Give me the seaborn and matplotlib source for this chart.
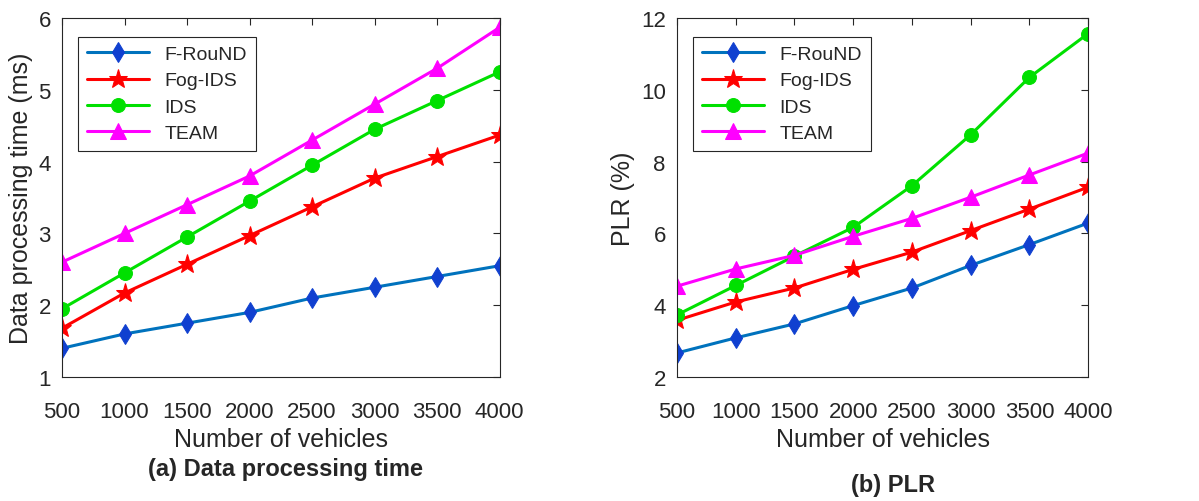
import pandas as pd
import matplotlib.pyplot as plt
import seaborn as sns

sns.set_style("white")
plt.rcParams["font.family"] = ["Liberation Sans", "DejaVu Sans"]

# data
vehicles = [500, 1000, 1500, 2000, 2500, 3000, 3500, 4000]
methods = ["F-RouND", "Fog-IDS", "IDS", "TEAM"]

time_fround = [1.40, 1.60, 1.75, 1.90, 2.10, 2.25, 2.40, 2.55]
time_fogids = [1.68, 2.17, 2.57, 2.97, 3.37, 3.77, 4.07, 4.37]
time_ids = [1.95, 2.45, 2.95, 3.45, 3.95, 4.45, 4.85, 5.25]
time_team = [2.60, 3.00, 3.40, 3.80, 4.30, 4.80, 5.30, 5.87]

plr_fround = [2.67, 3.09, 3.48, 3.99, 4.48, 5.11, 5.69, 6.29]
plr_fogids = [3.58, 4.09, 4.48, 5.00, 5.48, 6.08, 6.68, 7.29]
plr_ids = [3.73, 4.55, 5.37, 6.17, 7.33, 8.75, 10.35, 11.57]
plr_team = [4.53, 5.01, 5.39, 5.92, 6.42, 7.01, 7.63, 8.24]

colors = ["#0072BD", "#FF0000", "#00E000", "#FF00FF"]
face = ["#1040D0", "#FF0000", "#00E000", "#FF00FF"]
markers = ["d", "*", "o", "^"]
msizes = [10.5, 14, 10, 11]


def long_df(series):
    rows = []
    for name, vals in zip(methods, series):
        for v, y in zip(vehicles, vals):
            rows.append({"Vehicles": v, "Value": y, "Method": name})
    return pd.DataFrame(rows)


df_time = long_df([time_fround, time_fogids, time_ids, time_team])
df_plr = long_df([plr_fround, plr_fogids, plr_ids, plr_team])

fig = plt.figure(figsize=(11.99, 5.02), dpi=100)
ax1 = fig.add_axes([0.0517, 0.247, 0.365, 0.715])
ax2 = fig.add_axes([0.5646, 0.247, 0.343, 0.715])


def draw(ax, df, ylabel, ylim, yticks, legx):
    for i, name in enumerate(methods):
        sub = df[df["Method"] == name]
        sns.lineplot(data=sub, x="Vehicles", y="Value", ax=ax, label=name,
                     color=colors[i], linewidth=2.2, marker=markers[i],
                     markersize=msizes[i], markerfacecolor=face[i],
                     markeredgecolor=face[i])
    ax.set_xlim(500, 4000)
    ax.set_ylim(*ylim)
    ax.set_xticks(vehicles)
    ax.set_yticks(yticks)
    ax.tick_params(direction="in", top=True, right=True, length=5,
                   labelsize=16, colors="#262626")
    ax.tick_params(axis="x", pad=17)
    ax.tick_params(axis="y", pad=8)
    for s in ax.spines.values():
        s.set_color("#262626")
        s.set_linewidth(0.8)
    ax.set_xlabel("Number of vehicles", fontsize=18, color="#262626",
                  labelpad=4)
    ax.set_ylabel(ylabel, fontsize=18, color="#262626", labelpad=4)
    leg = ax.legend(loc="upper left", bbox_to_anchor=(legx, 0.948),
                    fontsize=14, fancybox=False, framealpha=1,
                    edgecolor="#262626", handlelength=3.2,
                    borderpad=0.45, labelspacing=0.45, borderaxespad=0)
    leg.get_frame().set_linewidth(0.8)


draw(ax1, df_time, "Data processing time (ms)", (1, 6), [1, 2, 3, 4, 5, 6], 0.037)
draw(ax2, df_plr, "PLR (%)", (2, 12), [2, 4, 6, 8, 10, 12], 0.039)

fig.text(0.238, 0.064, "(a) Data processing time", ha="center", va="center",
         fontsize=17, fontweight="bold")
fig.text(0.745, 0.032, "(b) PLR", ha="center", va="center",
         fontsize=17, fontweight="bold")

plt.savefig("out.png", dpi=100)
